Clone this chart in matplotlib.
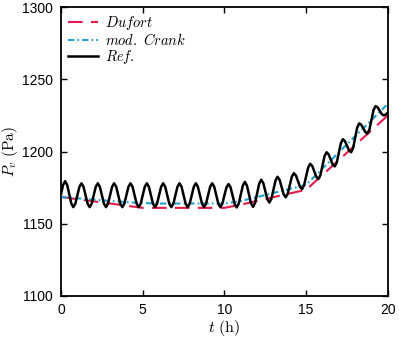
import matplotlib
matplotlib.use('Agg')
import matplotlib.pyplot as plt
import numpy as np

plt.rcParams['font.family'] = 'Liberation Sans'
plt.rcParams['mathtext.fontset'] = 'cm'

# hourly values of the two schemes
t_hours = list(range(0, 21))
dufort = [1168.5, 1167.0, 1165.5, 1164.0, 1162.5, 1161.0, 1161.0, 1161.0, 1161.0, 1161.0,
          1161.0, 1163.2, 1165.8, 1168.4, 1171.0, 1173.5, 1183.8, 1194.1, 1204.4, 1214.7, 1225.0]
crank = [1168.5, 1167.6, 1166.7, 1165.8, 1165.0, 1164.3, 1164.0, 1164.0, 1164.0, 1164.0,
         1164.0, 1165.7, 1168.5, 1171.3, 1174.1, 1177.0, 1188.2, 1199.4, 1210.6, 1221.8, 1233.0]

# reference solution, 8 samples per hour
t_ref = [i / 8 for i in range(161)]
ref = (
    [1170.5, 1176.9, 1179.5, 1176.9, 1170.5, 1164.1, 1161.5, 1163.9]        # 0
    + [1169.8, 1175.6, 1178.0, 1175.6, 1169.8, 1163.9, 1161.5, 1163.9] * 9  # 1-9
    + [1169.8, 1175.2, 1177.5, 1175.2, 1169.4, 1163.7, 1161.3, 1163.9]      # 10
    + [1170.2, 1176.4, 1179.0, 1176.5, 1170.4, 1164.2, 1161.7, 1164.4]      # 11
    + [1171.1, 1177.7, 1180.5, 1178.2, 1172.6, 1167.0, 1164.7, 1167.3]      # 12
    + [1173.6, 1179.9, 1182.5, 1180.4, 1175.4, 1170.4, 1168.3, 1170.8]      # 13
    + [1176.7, 1182.6, 1185.0, 1183.4, 1179.5, 1175.6, 1174.0, 1176.7]      # 14
    + [1182.8, 1189.0, 1191.5, 1190.0, 1186.3, 1182.5, 1181.0, 1183.7]      # 15
    + [1190.3, 1196.8, 1199.5, 1198.1, 1194.6, 1191.1, 1189.7, 1192.4]      # 16
    + [1199.1, 1205.7, 1208.5, 1207.2, 1204.0, 1200.8, 1199.5, 1202.4]      # 17
    + [1209.5, 1216.6, 1219.5, 1218.5, 1216.0, 1213.5, 1212.5, 1215.3]      # 18
    + [1222.0, 1228.7, 1231.5, 1230.6, 1228.3, 1226.0, 1225.0, 1225.6]      # 19
    + [1227.0]
)

fig = plt.figure(figsize=(3.99, 3.39), dpi=100)
ax = fig.add_axes([0.153, 0.127, 0.819, 0.852])

ax.plot(t_hours, dufort, color='#e5194b', linestyle=(0, (7, 4)), linewidth=1.5, label=r'$Dufort$')
ax.plot(t_hours, crank, color='#1f9fd4', linestyle=(0, (3, 1.5, 0.8, 1.5)), linewidth=1.5, label=r'$mod.\ Crank$')
ax.plot(t_ref, ref, color='black', linewidth=1.8, label=r'$Ref.$')

ax.set_xlim(0, 20)
ax.set_ylim(1100, 1300)
ax.set_xticks([0, 5, 10, 15, 20])
ax.set_yticks([1100, 1150, 1200, 1250, 1300])
ax.tick_params(direction='in', top=True, right=True, labelsize=10, length=4, width=1)
ax.tick_params(axis='x', pad=5)
ax.tick_params(axis='y', pad=6)
for s in ax.spines.values():
    s.set_linewidth(1.3)

ax.set_xlabel(r'$t\ \mathrm{(h)}$', fontsize=11.5, labelpad=1)
ax.set_ylabel(r'$P_v\ \mathrm{(Pa)}$', fontsize=11, labelpad=1)

ax.legend(loc='upper left', frameon=False, fontsize=10.5, handlelength=2.0,
          labelspacing=0.0, borderaxespad=0.1, handletextpad=0.5)

fig.savefig('out.png', dpi=100)
